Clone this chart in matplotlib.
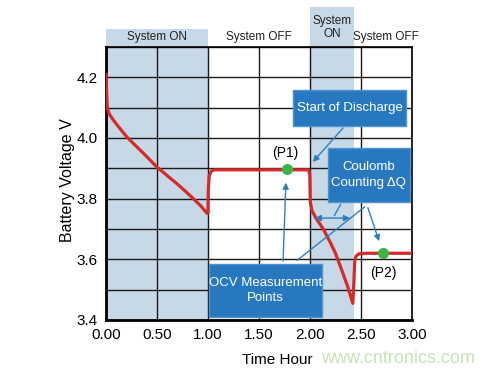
import numpy as np
import matplotlib.pyplot as plt
from matplotlib.patches import Rectangle
from matplotlib.transforms import blended_transform_factory

plt.rcParams["font.family"] = ["Liberation Sans", "DejaVu Sans"]

# ----------------------------
# Data
# ----------------------------
time_h = [0.00, 0.005, 0.013, 0.03, 0.072, 0.13, 0.203, 0.28, 0.366, 0.497, 0.60, 0.693, 0.78, 0.856, 0.93, 0.99,
          1.00, 1.003, 1.012, 1.03, 1.06, 1.50, 1.985,
          1.998, 2.003, 2.02, 2.06, 2.13, 2.20, 2.25, 2.30, 2.37, 2.42,
          2.43, 2.438, 2.45, 2.48, 2.55, 3.00]
voltage = [4.21, 4.16, 4.10, 4.08, 4.059, 4.034, 4.004, 3.978, 3.95, 3.905, 3.876, 3.85, 3.824, 3.80, 3.776, 3.752,
           3.752, 3.83, 3.875, 3.89, 3.895, 3.895, 3.895,
           3.88, 3.79, 3.76, 3.735, 3.70, 3.655, 3.62, 3.575, 3.51, 3.455,
           3.52, 3.59, 3.61, 3.618, 3.62, 3.62]

ocv_t = [1.77, 2.72]
ocv_v = [3.897, 3.62]
ocv_labels = ["(P1)", "(P2)"]

on_periods = [(0.0, 1.0), (2.0, 2.43)]
state_labels = ["System ON", "System OFF", "System\nON", "System OFF"]
state_x = [0.5, 1.5, 2.215, 2.74]
state_y = [1.035, 1.035, 1.072, 1.035]

x_ticks = [0.0, 0.5, 1.0, 1.5, 2.0, 2.5, 3.0]
y_ticks = [3.4, 3.6, 3.8, 4.0, 4.2]

# ----------------------------
# Style
# ----------------------------
RED = "#d42a2a"
SHADE = "#c7d8e6"
BOX = "#2878c0"
ARROW = "#2f7fbf"
GREEN = "#3cb548"

fig = plt.figure(figsize=(4.99, 3.75), dpi=100)
ax = fig.add_axes([0.2124, 0.1467, 0.6132, 0.728])
ax.set_xlim(0, 3.0)
ax.set_ylim(3.4, 4.3)

# shaded "system on" periods, with header bands above the axes
trans = blended_transform_factory(ax.transData, ax.transAxes)
band_tops = [1.066, 1.147]
for (s, e), top in zip(on_periods, band_tops):
    ax.axvspan(s, e, color=SHADE, linewidth=0, zorder=0)
    ax.add_patch(Rectangle((s, 1.0), e - s, top - 1.0, transform=trans,
                           facecolor=SHADE, edgecolor="none", clip_on=False, zorder=0))

for lab, x, y in zip(state_labels, state_x, state_y):
    ax.text(x, y, lab, transform=trans, ha="center", va="center",
            fontsize=8.5, color="#222222", linespacing=1.1)

# grid
ygrid = np.arange(3.4, 4.31, 0.1)
ax.set_xticks(x_ticks)
ax.set_xticklabels([f"{v:.2f}" for v in x_ticks])
ax.set_yticks(ygrid)
ax.set_yticklabels([f"{v:.1f}" if any(abs(v - t) < 1e-6 for t in y_ticks) else ""
                    for v in ygrid])
ax.grid(True, color="#1a1a1a", linewidth=1.0, zorder=1)
ax.set_axisbelow(True)
ax.tick_params(length=0, labelsize=11, pad=6)
for side in ["left", "bottom"]:
    ax.spines[side].set_linewidth(2.0)
for side in ["top", "right"]:
    ax.spines[side].set_linewidth(1.2)

# voltage curve
ax.plot(time_h, voltage, color=RED, linewidth=2.3, solid_joinstyle="round", zorder=3)

# OCV points
ax.plot(ocv_t, ocv_v, "o", color=GREEN, markersize=7, zorder=5)
ax.text(ocv_t[0] - 0.01, 3.952, ocv_labels[0], ha="center", va="center", fontsize=10)
ax.text(ocv_t[1], 3.556, ocv_labels[1], ha="center", va="center", fontsize=10)

# annotation boxes
boxes = [
    ((1.833, 4.040), 1.108, 0.118, "Start of Discharge", (2.387, 4.099)),
    ((2.176, 3.789), 0.804, 0.178, "Coulomb\nCounting \u0394Q", (2.578, 3.878)),
    ((1.010, 3.410), 1.108, 0.175, "OCV Measurement\nPoints", (1.564, 3.497)),
]
for (x0, y0), w, h, txt, (tx, ty) in boxes:
    ax.add_patch(Rectangle((x0, y0), w, h, facecolor=BOX, edgecolor="#4f93d0",
                           linewidth=1.0, clip_on=False, zorder=6))
    ax.text(tx, ty, txt, ha="center", va="center", color="white",
            fontsize=9.5, linespacing=1.35, zorder=7)

arrow_kw = dict(arrowstyle="-|>", color=ARROW, lw=1.0, mutation_scale=9)
line_kw = dict(arrowstyle="-", color=ARROW, lw=1.0)
ax.annotate("", xy=(2.01, 3.914), xytext=(2.343, 4.040), arrowprops=arrow_kw, zorder=4)
ax.annotate("", xy=(1.765, 3.862), xytext=(1.735, 3.585), arrowprops=arrow_kw, zorder=4)
ax.annotate("", xy=(2.559, 3.779), xytext=(1.853, 3.591), arrowprops=line_kw, zorder=4)
ax.annotate("", xy=(2.686, 3.651), xytext=(2.559, 3.779), arrowprops=arrow_kw, zorder=4)
ax.annotate("", xy=(2.225, 3.736), xytext=(2.314, 3.789), arrowprops=line_kw, zorder=4)
ax.annotate("", xy=(2.42, 3.736), xytext=(2.02, 3.736),
            arrowprops=dict(arrowstyle="<|-|>", color=ARROW, lw=1.0, mutation_scale=9), zorder=4)

# axis labels
fig.text(0.136, 0.52, "Battery Voltage V", rotation=90, ha="center", va="center", fontsize=11.5)
fig.text(0.555, 0.04, "Time Hour", ha="center", va="center", fontsize=11)
fig.text(0.797, 0.045, "www.cntronics.com", ha="center", va="center", fontsize=13, color="#c9e2b8")

fig.savefig("out.png", dpi=100)
